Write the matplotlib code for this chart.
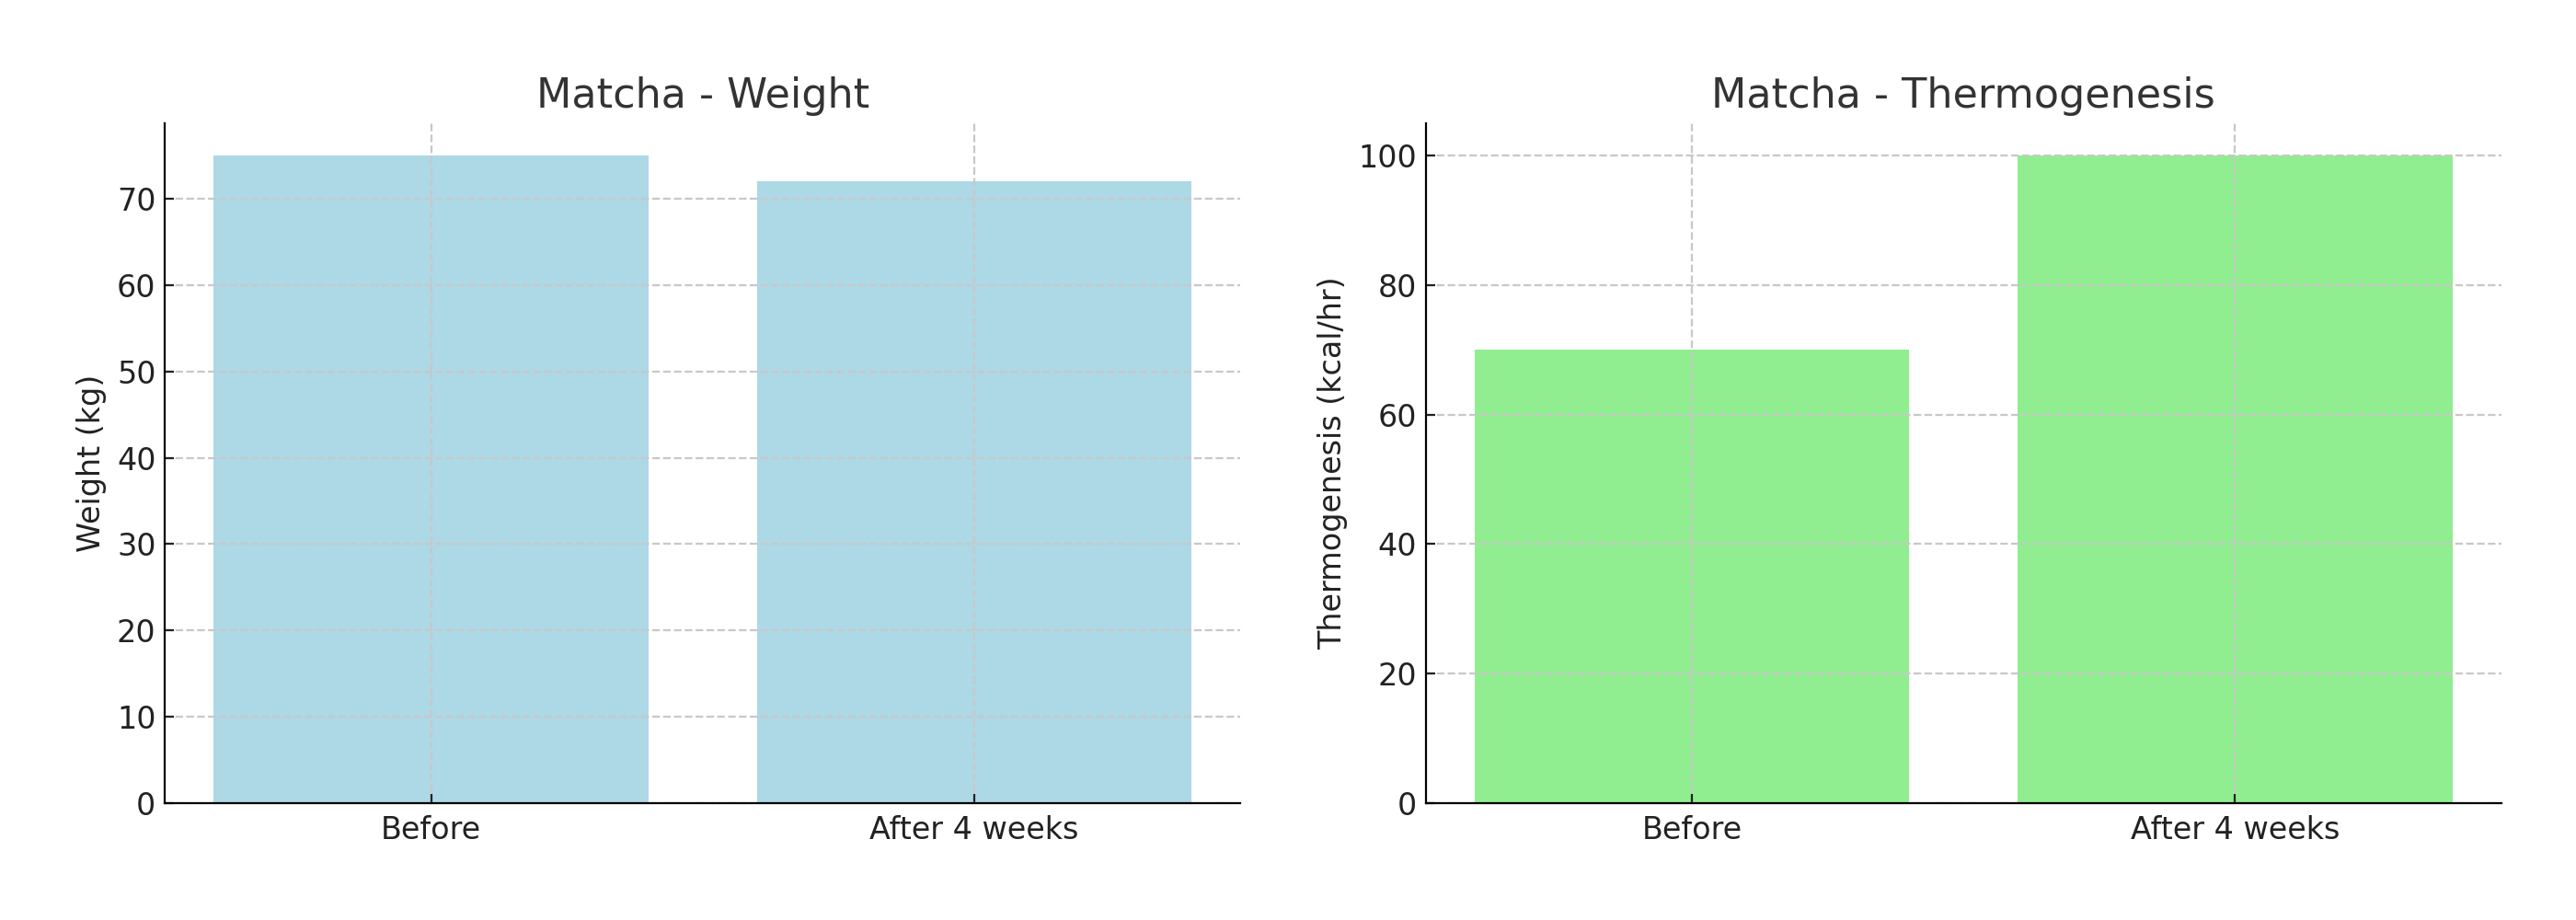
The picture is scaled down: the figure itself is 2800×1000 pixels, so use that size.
import matplotlib
matplotlib.use("Agg")
import matplotlib.pyplot as plt

# data
stages = ["Before", "After 4 weeks"]
weight_kg = [75, 72]
thermo_kcal_hr = [70, 100]

fig, (ax1, ax2) = plt.subplots(1, 2, figsize=(14, 5), dpi=200)
fig.subplots_adjust(left=0.064, right=0.971, bottom=0.127, top=0.866, wspace=0.172)

# weight
ax1.bar(stages, weight_kg, color="lightblue")
ax1.set_title("Matcha - Weight", fontsize=16, color="#333333")
ax1.set_ylabel("Weight (kg)", fontsize=12, color="#222222")

# thermogenesis
ax2.bar(stages, thermo_kcal_hr, color="lightgreen")
ax2.set_title("Matcha - Thermogenesis", fontsize=16, color="#333333")
ax2.set_ylabel("Thermogenesis (kcal/hr)", fontsize=12, color="#222222")

for ax in (ax1, ax2):
    ax.grid(True, linestyle="--", color="#c8c8c8", linewidth=0.8)
    ax.spines["top"].set_visible(False)
    ax.spines["right"].set_visible(False)
    ax.tick_params(labelsize=12, colors="#222222", direction="in")
    ax.tick_params(axis="x", pad=4.5)

fig.savefig("out.png")
